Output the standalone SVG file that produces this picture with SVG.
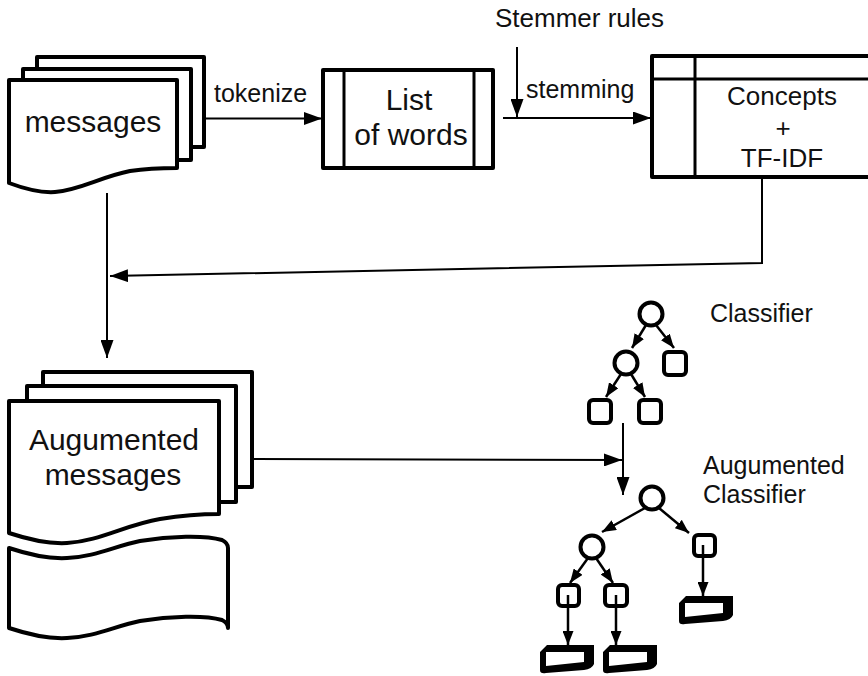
<svg xmlns="http://www.w3.org/2000/svg" width="868" height="676" viewBox="0 0 868 676">
<defs>
<style>
.sh{fill:#fff;stroke:#000;stroke-width:4;stroke-linejoin:round}
.ln{fill:none;stroke:#000;stroke-width:3}
.cn{fill:none;stroke:#000;stroke-width:2}
.tr{fill:none;stroke:#000;stroke-width:2.5}
.t{font-family:"Liberation Sans",Arial,sans-serif;fill:#111}
.big{font-size:30px;text-anchor:middle}
.mid{font-size:26px;text-anchor:middle}
.lab{font-size:25px}
.leafo{fill:#000}
.leafi{fill:#fff}
</style>
<marker id="ah" markerUnits="userSpaceOnUse" markerWidth="18" markerHeight="13" refX="18" refY="6.5" orient="auto">
<path d="M0,0 L18,6.5 L0,13 Z" fill="#000"/>
</marker>
<marker id="sa" markerUnits="userSpaceOnUse" markerWidth="14" markerHeight="11" refX="14" refY="5.5" orient="auto">
<path d="M0,0 L14,5.5 L0,11 Z" fill="#000"/>
</marker>
<g id="leaf">
<path class="leafo" d="M0,7 L7,0 L54,0 L54,19 Q52,24 44,25 L6,28 Q0,29 0,25 Z"/>
<path class="leafi" d="M6,7 L44,7 L44,17 L6,21 Z"/>
</g>
</defs>
<rect width="868" height="676" fill="#fff"/>

<g id="connectors">
<line class="cn" x1="204" y1="118.5" x2="322" y2="118.5" marker-end="url(#ah)"/>
<line class="cn" x1="503" y1="118" x2="651" y2="118" marker-end="url(#ah)"/>
<line class="cn" x1="517" y1="47" x2="517" y2="117" marker-end="url(#ah)"/>
<polyline class="cn" points="762,177 762,263 110,276" marker-end="url(#ah)"/>
<line class="cn" x1="107" y1="193" x2="107" y2="358" marker-end="url(#ah)"/>
<line class="cn" x1="252" y1="459" x2="622" y2="460" marker-end="url(#ah)"/>
<line class="cn" x1="623" y1="423" x2="623" y2="495" marker-end="url(#ah)"/>
<text class="t lab" x="214" y="102">tokenize</text>
<text class="t lab" x="526" y="98">stemming</text>
<text class="t" font-size="26" x="495" y="27">Stemmer rules</text>
</g>

<g id="messages">
<rect class="sh" x="37" y="57" width="167" height="90"/>
<rect class="sh" x="23" y="69" width="168" height="91"/>
<path class="sh" d="M9,80 L177,80 L177,168 C165,168 150,168 130,171 C100,177 80,190 55,192 C40,193 25,189 9,183 Z"/>
<text class="t big" x="93" y="132">messages</text>
</g>

<g id="list-of-words">
<rect class="sh" x="323" y="70" width="170" height="98"/>
<line class="ln" x1="344" y1="70" x2="344" y2="168"/>
<line class="ln" x1="474" y1="70" x2="474" y2="168"/>
<text class="t big" x="409" y="110">List</text>
<text class="t big" x="411" y="145">of words</text>
</g>

<g id="concepts">
<rect class="sh" x="652" y="56" width="232" height="121"/>
<line class="ln" x1="652" y1="79" x2="884" y2="79"/>
<line class="ln" x1="695" y1="56" x2="695" y2="177"/>
<text class="t mid" x="782" y="105">Concepts</text>
<text class="t mid" x="783" y="137">+</text>
<text class="t mid" x="782" y="167">TF-IDF</text>
</g>

<g id="augmented-messages">
<rect class="sh" x="43" y="372" width="209" height="115"/>
<rect class="sh" x="27" y="386" width="209" height="116"/>
<path class="sh" d="M9,401 L219,401 L219,514 C205,514 185,515 160,519 C125,525 100,541 67,543 C50,544 30,540 9,533 Z"/>
<text class="t big" x="114" y="450">Augumented</text>
<text class="t big" x="113" y="485">messages</text>
</g>

<g id="tape">
<path class="sh" d="M9,548 C30,555 50,559 67,558 C95,557 115,546 140,541 C170,536 205,535 222,540 Q228,543 228,548 L228,628 Q228,623 222,620 C205,615 170,616 140,621 C115,626 95,637 67,638 C50,639 30,635 9,628 Z"/>
</g>

<g id="classifier">
<line class="tr" x1="646" y1="325" x2="632" y2="348" marker-end="url(#sa)"/>
<line class="tr" x1="656" y1="325" x2="674" y2="348" marker-end="url(#sa)"/>
<line class="tr" x1="621" y1="374" x2="606" y2="397" marker-end="url(#sa)"/>
<line class="tr" x1="631" y1="374" x2="645" y2="397" marker-end="url(#sa)"/>
<circle class="sh" cx="651" cy="314" r="11.5"/>
<circle class="sh" cx="626" cy="363" r="11.5"/>
<rect class="sh" x="664" y="352" width="22" height="23" rx="4"/>
<rect class="sh" x="589" y="400" width="22" height="23" rx="4"/>
<rect class="sh" x="639" y="400" width="22" height="23" rx="4"/>
<text class="t lab" x="710" y="322">Classifier</text>
</g>

<g id="augmented-classifier">
<line class="tr" x1="645" y1="508" x2="602" y2="532" marker-end="url(#sa)"/>
<line class="tr" x1="659" y1="508" x2="689" y2="533" marker-end="url(#sa)"/>
<line class="tr" x1="588" y1="558" x2="570" y2="583" marker-end="url(#sa)"/>
<line class="tr" x1="596" y1="558" x2="613" y2="583" marker-end="url(#sa)"/>
<circle class="sh" cx="652" cy="498" r="11.5"/>
<circle class="sh" cx="592" cy="547" r="11.5"/>
<rect class="sh" x="694" y="535" width="21" height="21" rx="4"/>
<rect class="sh" x="558" y="585" width="21" height="21" rx="4"/>
<rect class="sh" x="605" y="585" width="22" height="21" rx="4"/>
<line class="tr" x1="568" y1="595" x2="568" y2="645" marker-end="url(#sa)"/>
<line class="tr" x1="616" y1="595" x2="616" y2="645" marker-end="url(#sa)"/>
<line class="tr" x1="703" y1="545" x2="703" y2="596" marker-end="url(#sa)"/>
<use href="#leaf" x="540" y="645"/>
<use href="#leaf" x="603" y="645"/>
<use href="#leaf" x="679" y="596"/>
<text class="t lab" x="703" y="474">Augumented</text>
<text class="t lab" x="703" y="503">Classifier</text>
</g>
</svg>
